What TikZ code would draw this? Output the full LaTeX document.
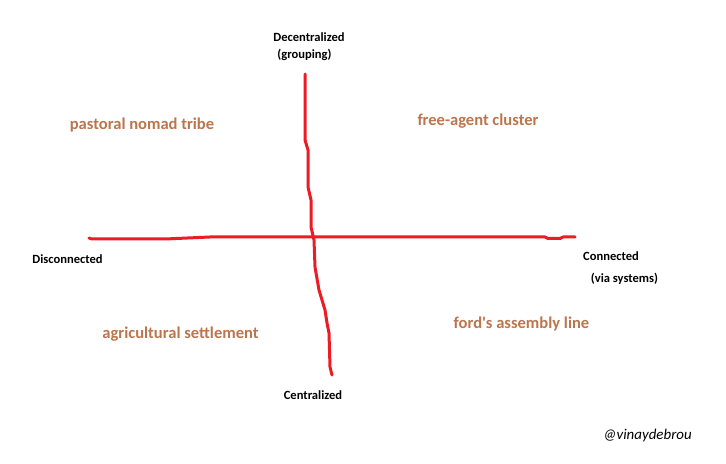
\documentclass[tikz,border=0pt]{standalone}
\usepackage{fontspec}
\setmainfont{Carlito}
\usepackage{tikz}
\definecolor{axisred}{RGB}{237,28,36}
\definecolor{tribebrown}{RGB}{188,118,78}
\tikzset{
  axis/.style={draw=axisred,line width=3bp,line join=round,line cap=round},
  pole/.style={font=\fontsize{12.6}{14}\selectfont\bfseries,inner sep=0pt},
  quad/.style={font=\fontsize{16.6}{19}\selectfont\bfseries,text=tribebrown,inner sep=0pt},
  sig/.style={font=\fontsize{15}{17}\selectfont\itshape,inner sep=0pt}
}

\begin{document}
\begin{tikzpicture}[x=1bp,y=-1bp]
\useasboundingbox[fill=white] (0,0) rectangle (726,464);
\node[pole] (dec) at (309,37) {Decentralized};
\node[pole] (grp) at (304.5,55) {(grouping)};
\node[pole] (dis) at (67.5,259) {Disconnected};
\node[pole] (con) at (611,256) {Connected};
\node[pole] (via) at (624.5,279) {(via systems)};
\node[pole] (cen) at (313,395) {Centralized};
\node[quad] (q1) at (142,125) {pastoral nomad tribe};
\node[quad] (q2) at (478,121) {free-agent cluster};
\node[quad] (q3) at (180.5,334) {agricultural settlement};
\node[quad] (q4) at (521.5,324) {ford\textquotesingle s assembly line};
\node[sig] (sig) at (647.5,436) {@vinaydebrou};
\coordinate (west) at (89,238);
\coordinate (east) at (575,237);
\coordinate (north) at (305,74);
\coordinate (south) at (332,375);
\draw[axis] (west) -- (92,239) -- (165,239) -- (210,237) -- (545,237) -- (548,238.5)
  -- (560,238.5) -- (563,237) -- (east);
\draw[axis] (north) -- (305,140) -- (308,150) -- (308,187) -- (311,200) -- (311,227)
  -- (314,240) -- (315,267) -- (319,290) -- (325,310) -- (327,323) -- (329,333)
  -- (330,367) -- (south);
\end{tikzpicture}
\end{document}
